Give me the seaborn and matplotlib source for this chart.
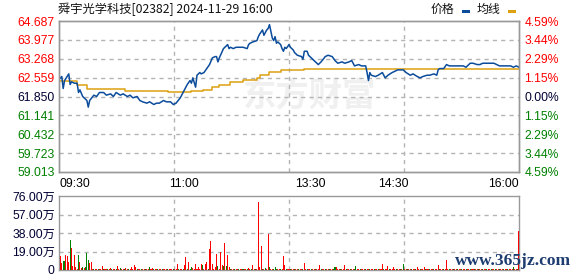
import numpy as np
import pandas as pd
import matplotlib
matplotlib.use("Agg")
import matplotlib.pyplot as plt
import seaborn as sns
from matplotlib.patches import Rectangle
from matplotlib.lines import Line2D

# ---------------- data ----------------
title = "舜宇光学科技[02382] 2024-11-29 16:00"
prev_close = 61.850
y_top = 64.687
y_bottom = 59.013
price_tick_values = [59.013, 59.723, 60.432, 61.141, 61.850, 62.559, 63.268, 63.977, 64.687]
price_tick_labels = ["59.013", "59.723", "60.432", "61.141", "61.850", "62.559", "63.268", "63.977", "64.687"]
pct_tick_labels = ["4.59%", "3.44%", "2.29%", "1.15%", "0.00%", "1.15%", "2.29%", "3.44%", "4.59%"]
total_minutes = 330
time_labels = ["09:30", "11:00", "13:30", "14:30", "16:00"]
time_label_minutes = [0, 90, 180, 240, 330]

price_minutes = [0, 1, 2, 3, 4, 7, 8, 9, 11, 13, 14, 15, 17, 20, 21, 22, 25, 27, 29, 32,
                 34, 37, 39, 41, 44, 46, 49, 51, 53, 56, 58, 60, 63, 65, 68, 70, 72, 75, 77, 80,
                 82, 84, 87, 89, 92, 94, 95, 96, 98, 99, 101, 102, 104, 106, 108, 110, 112, 113, 114, 115,
                 118, 121, 122, 123, 125, 127, 130, 132, 135, 136, 137, 139, 142, 143, 144, 146, 147, 149, 150, 151,
                 153, 154, 155, 156, 157, 159, 160, 161, 162, 163, 165, 166, 167, 168, 169, 171, 174, 175, 176, 178,
                 179, 181, 184, 186, 188, 191, 193, 196, 198, 200, 203, 205, 208, 210, 211, 212, 215, 217, 220, 221,
                 222, 223, 224, 227, 229, 232, 234, 236, 239, 241, 243, 246, 247, 249, 252, 254, 257, 259, 261, 264,
                 266, 269, 271, 272, 273, 276, 278, 280, 283, 285, 288, 290, 292, 295, 297, 300, 302, 304, 307, 312,
                 314, 316, 321, 324, 326, 328, 330]
price_values = [62.50, 62.55, 62.60, 62.15, 62.45, 62.70, 62.30, 62.40, 62.35, 62.35, 62.00, 62.10, 61.85, 61.70, 61.45, 61.70, 61.90, 61.85, 62.00, 62.00,
                61.90, 61.95, 61.85, 62.00, 61.90, 61.95, 61.85, 61.90, 61.80, 61.85, 61.70, 61.65, 61.60, 61.65, 61.55, 61.60, 61.60, 61.70, 61.65, 61.65,
                61.55, 61.60, 61.80, 62.00, 62.30, 62.45, 62.35, 62.55, 62.20, 62.65, 62.75, 62.70, 62.75, 62.90, 63.05, 63.30, 63.35, 63.35, 63.15, 63.30,
                63.65, 63.80, 63.65, 63.70, 63.65, 63.70, 63.70, 63.70, 63.65, 63.80, 63.85, 63.90, 63.95, 64.10, 64.20, 64.35, 64.15, 64.35, 64.40, 64.55,
                64.05, 63.95, 64.10, 63.85, 63.90, 63.80, 63.65, 63.55, 63.70, 63.65, 63.80, 63.70, 63.65, 63.60, 63.50, 63.40, 63.35, 63.25, 63.55, 63.55,
                63.40, 63.30, 63.15, 63.05, 63.15, 63.35, 63.40, 63.35, 63.20, 63.10, 63.15, 63.10, 63.15, 63.20, 63.10, 63.00, 63.05, 63.00, 63.00, 62.75,
                62.45, 62.75, 62.65, 62.60, 62.65, 62.75, 62.55, 62.65, 62.75, 62.80, 62.85, 62.85, 62.85, 62.75, 62.65, 62.70, 62.60, 62.55, 62.60, 62.65,
                62.65, 62.70, 62.65, 62.85, 62.90, 62.90, 63.05, 63.00, 63.00, 63.00, 63.00, 63.00, 62.95, 63.10, 63.10, 63.05, 63.05, 63.10, 63.10, 63.10,
                63.05, 63.00, 63.00, 63.00, 62.95, 63.00, 62.95]

avg_minutes = [0, 13, 20, 47, 78, 95, 103, 110, 115, 123, 132, 142, 144, 151, 159, 176, 330]
avg_values = [62.42, 62.28, 62.12, 62.04, 62.01, 62.05, 62.09, 62.22, 62.28, 62.41, 62.47, 62.53, 62.66, 62.78, 62.85, 62.88, 62.88]

# volume per minute (万股), minute 0..330
volume_values = [
    0, 14.4, 7.5, 9, 9, 15.4, 14.4, 8, 30.8, 23,
    4, 15.4, 3, 1.5, 15.4, 8, 2, 3, 2, 3,
    17, 10, 7, 8, 1.5, 1.5, 1, 1.5, 1, 1.5,
    1, 4, 1.5, 1, 1.5, 1, 1.5, 2, 1, 1.5,
    1, 1.5, 4, 1, 2, 1.5, 1, 1.5, 2, 1,
    1.5, 1, 3, 1, 5, 3, 1.5, 1, 1.5, 1,
    1.5, 1, 1.5, 1, 1.5, 3, 1, 2, 1.5, 1,
    1.5, 1, 1.5, 1, 1, 1.5, 1, 1.5, 1, 1.5,
    1, 1.5, 1, 1.5, 1, 6, 1.5, 1, 1.5, 1,
    5, 13, 1.5, 8, 1.5, 3, 2, 1.5, 6, 1.5,
    3, 1.5, 6, 5, 1.5, 6.5, 8, 1.5, 21.5, 30,
    6, 1.5, 3, 16, 4, 1.5, 19, 5, 4, 28,
    4, 15.4, 3, 1.5, 1, 1.5, 1, 1.5, 1, 1.5,
    1, 1.5, 1, 1.5, 1, 1.5, 2, 1, 1.5, 5,
    1.5, 1, 1.5, 70, 3, 24.6, 1.5, 1, 2, 1.5,
    37, 3, 1.5, 1, 1.5, 3, 1, 1.5, 1, 1.5,
    1, 14.4, 5, 1.5, 1, 1.5, 1, 1.5, 1, 1.5,
    1, 1.5, 1, 1.5, 1, 1.5, 7.5, 1.5, 1, 1.5,
    1, 1.5, 1, 1.5, 1, 1.5, 1, 5, 1.5, 1,
    1.5, 1, 1.5, 1, 1.5, 1, 1.5, 1, 3, 3.5,
    1.5, 1, 1.5, 1, 1.5, 5, 1, 1.5, 1, 1.5,
    1, 1.5, 1, 4, 1.5, 1, 1.5, 1, 1.5, 1,
    1.5, 1, 1.5, 1, 1.5, 1, 1.5, 1, 1.5, 1,
    1.5, 1, 6, 1.5, 1, 1.5, 4, 1, 1.5, 1,
    3, 1.5, 1, 1.5, 1, 1.5, 1, 6.5, 1.5, 1,
    1.5, 1, 1.5, 1, 1.5, 1, 1.5, 3, 1, 1.5,
    1, 1.5, 3, 1, 1.5, 1, 1.5, 1, 1.5, 1,
    1.5, 1, 5, 1.5, 1, 1.5, 1, 1.5, 10, 1.5,
    1, 1.5, 1, 1.5, 1, 1.5, 1, 1.5, 1, 1.5,
    1, 1.5, 1, 1.5, 1, 1.5, 1, 1.5, 1, 1.5,
    1, 1.5, 1, 1.5, 1, 1.5, 1, 1.5, 1, 1.5,
    1, 1.5, 1, 1.5, 1, 1.5, 1, 1.5, 1, 1.5,
    1, 1.5, 1, 1.5, 1, 1.5, 3, 1.5, 1, 1.5,
    40,
]
volume_dirs = ("rrrggrrrgr" "rrrrgrrgrg" "ggrrrgrrgr" "rrgrrgrrgr" "rgrrgrrgrr"
               "grrrrrgrrg" "rrgrrgrrgr" "rgrrgrrrgr" "rrgrrrgrrg" "rrgrggrrrr"
               "rrrgrrrgrr" "rrrrgrrrgr" "grrgrrgrrg" "rrgrrgrrgr" "rgrrrrgrgr"
               "rgrrgggrrg" "rrrgrrgrrg" "rrgrrgrrgr" "rgrrgrrrgr" "rgrrgrrggr"
               "rrgrrrgrrg" "rrggrrgrrr" "grrgrrgrrg" "rrrgrrrgrr" "rrgrrgrgrr"
               "grrgrrgrrg" "rrrgrrgrrg" "rrrgrrgrrr" "grrgrrgrrg" "rrgrrgrrgr"
               "rgrrgrrgrr" "grrgrrgrrg" "rrgrrrgrrg" "r")
vol_ticks = [0, 19, 38, 57, 76]
vol_tick_labels = ["0", "19.00万", "38.00万", "57.00万", "76.00万"]

# ---------------- style ----------------
sns.set_theme(style="white")
plt.rcParams['font.family'] = ['Liberation Sans', 'Noto Sans CJK SC']
RED = "#ff0000"
GREEN = "#008000"
DARK = "#000033"
GRID = "#b4b4b4"
SPINE = "#999999"
BLUE = "#0b4c9c"
ORANGE = "#dca011"
FS = 8.7
quarters = [total_minutes / 4, total_minutes / 2, 3 * total_minutes / 4]
DASH = (0, (3, 3))

W, H = 578, 276
fig = plt.figure(figsize=(W / 100, H / 100), dpi=100)
ax = fig.add_axes([59 / W, 1 - 172 / H, 460 / W, 151 / H])
axv = fig.add_axes([59 / W, 1 - 270 / H, 460 / W, 74 / H])
ax.patch.set_alpha(0)
axv.patch.set_alpha(0)

fig.text(309 / W, 1 - 97 / H, "东方财富", fontsize=24, color="#f0f0f0", fontweight="bold",
         family=['Noto Sans CJK SC'], ha="center", va="center", zorder=-2, style="italic")

def level_color(v):
    if v > prev_close + 1e-6:
        return RED
    if v < prev_close - 1e-6:
        return GREEN
    return DARK

# ---------------- price panel ----------------
sns.lineplot(x=avg_minutes, y=avg_values, ax=ax, color=ORANGE, linewidth=1.1,
             drawstyle="steps-post", estimator=None, sort=True, zorder=3)
sns.lineplot(x=price_minutes, y=price_values, ax=ax, color=BLUE, linewidth=1.1,
             estimator=None, sort=True, zorder=4)
ax.set_xlim(0, total_minutes)
ax.set_ylim(y_bottom, y_top)
ax.set_xlabel("")
ax.set_ylabel("")
ax.set_yticks(price_tick_values)
ax.set_yticklabels(price_tick_labels, fontsize=FS)
for lab, v in zip(ax.get_yticklabels(), price_tick_values):
    lab.set_color(level_color(v))
ax.set_xticks(time_label_minutes)
ax.set_xticklabels(time_labels, fontsize=FS, color="black")
xl = ax.get_xticklabels()
xl[0].set_ha("left")
xl[-1].set_ha("right")
ax.tick_params(axis="y", length=0, pad=3)
ax.tick_params(axis="x", length=0, pad=4)

axr = ax.twinx()
axr.set_ylim(y_bottom, y_top)
axr.set_yticks(price_tick_values)
axr.set_yticklabels(pct_tick_labels, fontsize=FS)
for lab, v in zip(axr.get_yticklabels(), price_tick_values):
    lab.set_color(level_color(v))
axr.tick_params(axis="y", length=0, pad=4)

for a in (ax, axr):
    for s in a.spines.values():
        s.set_color(SPINE)
        s.set_linewidth(1.0)

# ---------------- volume panel ----------------
vdf = pd.DataFrame({
    "minute": np.arange(len(volume_values)),
    "vol": volume_values,
    "dir": list(volume_dirs),
})
sns.barplot(data=vdf, x="minute", y="vol", hue="dir", palette={"r": RED, "g": GREEN},
            dodge=False, legend=False, errorbar=None, width=0.75, native_scale=True,
            ax=axv, saturation=1, linewidth=0, zorder=3)
axv.set_xlim(0, total_minutes)
axv.set_ylim(0, 76)
axv.set_xlabel("")
axv.set_ylabel("")
axv.set_xticks([])
axv.set_yticks(vol_ticks)
axv.set_yticklabels(vol_tick_labels, fontsize=FS, color="#000033")
axv.tick_params(axis="y", length=0, pad=3)
for s in axv.spines.values():
    s.set_color(SPINE)
    s.set_linewidth(1.0)

# ---------------- grid, placed at figure level from each panel's scales ----------------
to_fig = fig.transFigure.inverted()

def add_grid(a, hvals, vvals):
    ylo, yhi = a.get_ylim()
    for v in hvals:
        (x0, y0) = to_fig.transform(a.transData.transform((0, v)))
        (x1, _) = to_fig.transform(a.transData.transform((total_minutes, v)))
        fig.add_artist(Line2D([x0, x1], [y0, y0], transform=fig.transFigure,
                              color=GRID, lw=1.0, ls=DASH, zorder=-1))
    for q in vvals:
        (x0, y0) = to_fig.transform(a.transData.transform((q, ylo)))
        (_, y1) = to_fig.transform(a.transData.transform((q, yhi)))
        fig.add_artist(Line2D([x0, x0], [y0, y1], transform=fig.transFigure,
                              color=GRID, lw=1.0, ls=DASH, zorder=-1))

add_grid(ax, price_tick_values[1:-1], quarters)
add_grid(axv, vol_ticks[1:-1], quarters)

# ---------------- header ----------------
fig.text(58 / W, 1 - 9 / H, title, fontsize=8.8, family=['Noto Sans CJK SC'],
         ha="left", va="center", color="#111111")
fig.text(431 / W, 1 - 9 / H, "价格", fontsize=8.6, family=['Noto Sans CJK SC'],
         ha="left", va="center", color="#111111")
fig.text(477 / W, 1 - 9 / H, "均线", fontsize=8.6, family=['Noto Sans CJK SC'],
         ha="left", va="center", color="#111111")
fig.add_artist(Rectangle((462 / W, 1 - 12.5 / H), 8 / W, 2.5 / H, transform=fig.transFigure,
                         color=BLUE, lw=0))
fig.add_artist(Rectangle((508 / W, 1 - 12.5 / H), 8 / W, 2.5 / H, transform=fig.transFigure,
                         color=ORANGE, lw=0))

fig.text(513 / W, 1 - 261 / H, "www.365jz.com", fontsize=12.5, family=['Liberation Serif'],
         ha="center", va="center", color="#1d3c70", fontweight="bold")

fig.savefig("out.png", dpi=100, facecolor="white")
